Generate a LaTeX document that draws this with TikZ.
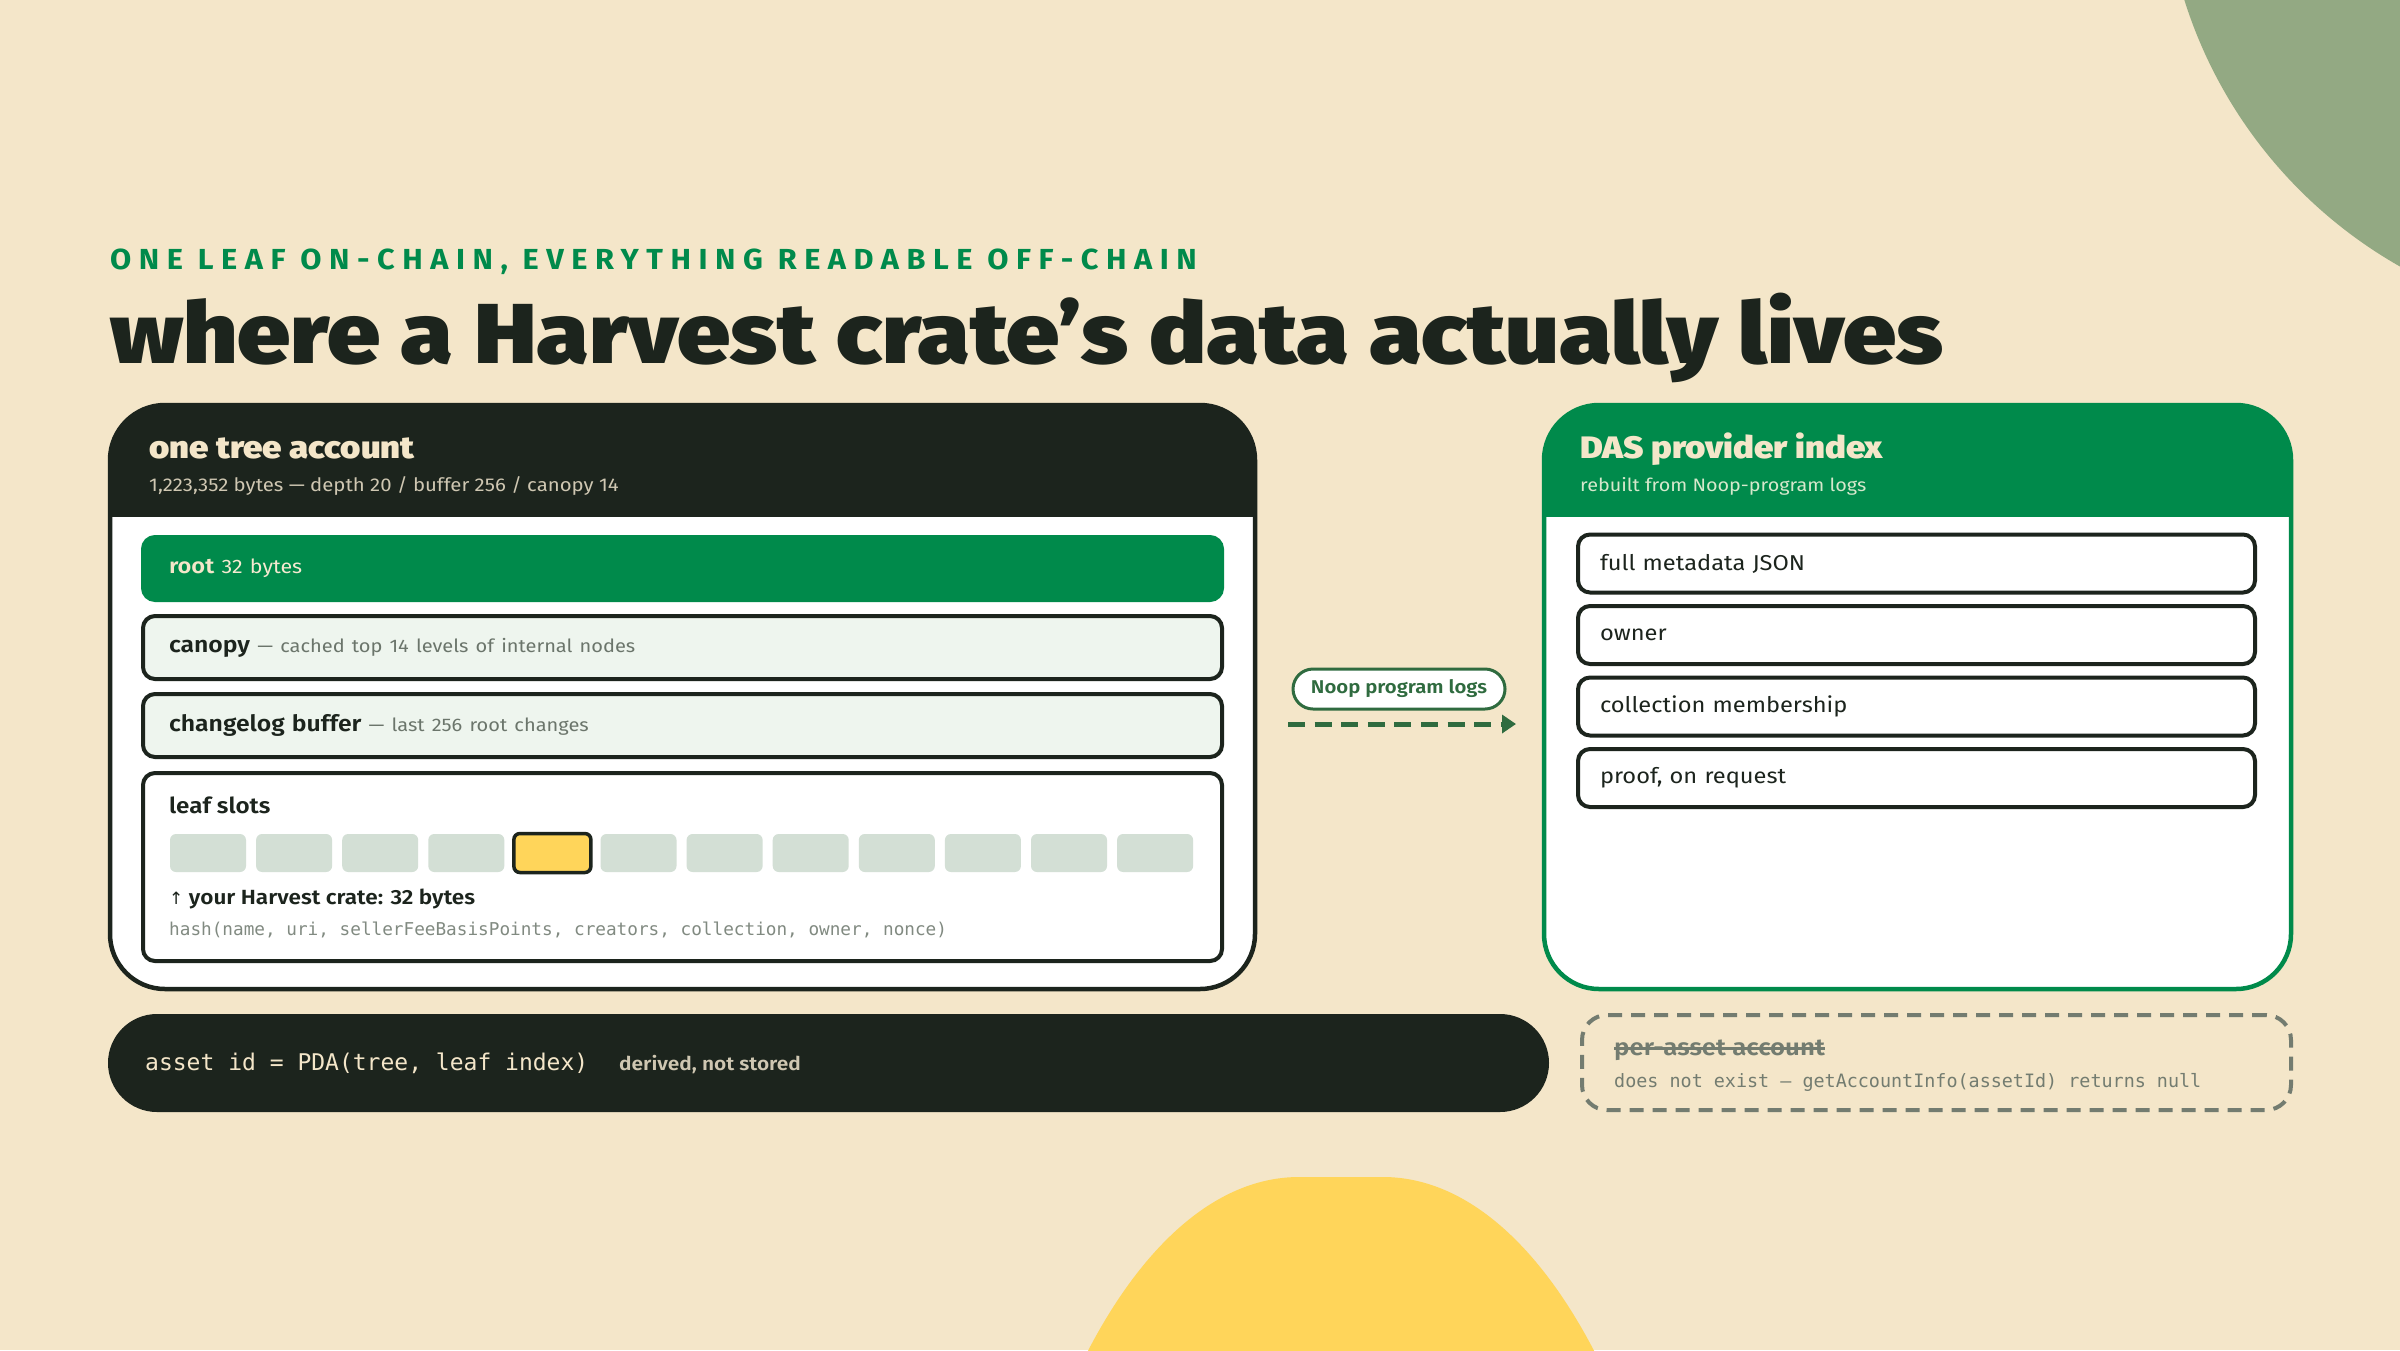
\documentclass[tikz,border=0pt]{standalone}
\usepackage{fontspec}
\setmainfont{Fira Sans}[BoldFont={Fira Sans SemiBold},FakeStretch=1.1]
\setmonofont{DejaVu Sans Mono}
\newfontfamily\heavyfont{Fira Sans Black}[FakeStretch=1.12]
\newfontfamily\capsfont{Fira Sans Bold}[LetterSpace=26,FakeStretch=1.06]
\newfontfamily\symfont{DejaVu Sans}
\usetikzlibrary{arrows.meta,positioning}

\definecolor{cream}{HTML}{F4E6C9}
\definecolor{ink}{HTML}{1C241D}
\definecolor{leafgreen}{HTML}{008A4B}
\definecolor{sage}{HTML}{93A983}
\definecolor{sun}{HTML}{FFD55A}
\definecolor{mint}{HTML}{EEF5EE}
\definecolor{slotgrey}{HTML}{D3DFD5}
\definecolor{mutedtext}{HTML}{6B756B}
\definecolor{ashgrey}{HTML}{737C70}
\definecolor{logsgreen}{HTML}{2F6B3F}
\definecolor{paletext}{HTML}{CFC7B2}
\definecolor{palegreen}{HTML}{D6E8CC}
\newcommand{\dimnote}{\fontsize{18.2}{22}\selectfont\mdseries\color{mutedtext}}

\begin{document}
\begin{tikzpicture}[x=1pt,y=-1pt,
  rowbox/.style={draw=ink,line width=4pt,rounded corners=12pt,minimum width=1079pt,
    minimum height=63pt,text width=1027pt,inner xsep=26pt,align=left,
    font=\fontsize{21.5}{25}\selectfont,text=ink},
  itembox/.style={draw=ink,line width=4pt,fill=white,rounded corners=12pt,minimum width=677pt,
    minimum height=58pt,text width=633pt,inner xsep=22pt,align=left,
    font=\fontsize{21.5}{25}\selectfont,text=ink},
  slot/.style={fill=slotgrey,rounded corners=6pt,minimum width=76pt,minimum height=38pt,inner sep=0pt},
  mine/.style={slot,fill=sun,draw=ink,line width=3.5pt,minimum width=77pt,minimum height=39pt},
  label/.style={anchor=base west,inner sep=0pt},
  pill/.style={draw=logsgreen,line width=3pt,fill=white,rounded corners=20pt,minimum width=212pt,
    minimum height=40pt,text=logsgreen,font=\bfseries\fontsize{18.5}{22}\selectfont},
  logarrow/.style={draw=logsgreen,line width=5pt,dash pattern=on 17pt off 9.6pt,
    -{Triangle[length=14pt,width=18pt]}}]

\useasboundingbox (0,0) rectangle (2400,1350);
\fill[cream] (0,0) rectangle (2400,1350);
\begin{scope}
  \clip (0,0) rectangle (2400,1350);
  \fill[sage] (2630,-140) circle (467pt);
  \fill[sun] (1299,1177) -- (1383,1177)
    arc[start angle=90,end angle=0,x radius=320pt,y radius=700pt] -- (979,1877)
    arc[start angle=180,end angle=90,x radius=320pt,y radius=700pt] -- cycle;
\end{scope}

% heading
\node[label,text=leafgreen,font=\capsfont\fontsize{29}{34}\selectfont] (kicker) at (110,269)
  {ONE LEAF ON-CHAIN, EVERYTHING READABLE OFF-CHAIN};
\node[label,text=ink,font=\heavyfont\fontsize{85}{95}\selectfont] (headline) at (110,363)
  {where a Harvest crate’s data actually lives};

% tree account panel
\fill[white,rounded corners=55pt] (110,405) rectangle (1255,989);
\begin{scope}
  \clip (100,395) rectangle (1265,516);
  \fill[ink,rounded corners=55pt] (110,405) rectangle (1255,989);
\end{scope}
\draw[ink,line width=4.5pt,rounded corners=55pt] (110,405) rectangle (1255,989);
\node[label,text=cream,font=\heavyfont\fontsize{31}{36}\selectfont] (treetitle) at (149,458) {one tree account};
\node[label,text=paletext,font=\fontsize{18.5}{22}\selectfont] (treesub) at (149,491)
  {1,223,352 bytes — depth 20 / buffer 256 / canopy 14};

\node[rowbox,fill=leafgreen,draw=leafgreen,text=cream] (root) at (682.5,568.5)
  {\textbf{root} {\fontsize{19.5}{23}\selectfont\color{cream!85!white}32 bytes}};
\node[rowbox,fill=mint] (canopy) at (682.5,647.5)
  {{\bfseries\fontsize{22.5}{26}\selectfont canopy} {\dimnote — cached top 14 levels of internal nodes}};
\node[rowbox,fill=mint] (changelog) at (682.5,725.5)
  {{\bfseries\fontsize{22.5}{26}\selectfont changelog buffer} {\dimnote — last 256 root changes}};
\node[rowbox,fill=white,minimum height=188pt] (leaves) at (682.5,867) {};
\node[label,text=ink,font=\bfseries\fontsize{22}{26}\selectfont] (leaftitle) at (169,813) {leaf slots};
\foreach \i in {0,1,2,3,5,6,7,8,9,10,11}
  \node[slot] (slot\i) at ({208+86.1*\i},853) {};
\node[mine] (slot4) at ({208+86.1*4},853) {};
\node[label,text=ink,font=\bfseries\fontsize{20.5}{24}\selectfont] (yours) at (169,904)
  {{\symfont\mdseries\fontsize{17}{20}\selectfont ↑} your Harvest crate: 32 bytes};
\node[label,text=mutedtext!85!white,font=\ttfamily\fontsize{17.7}{22}\selectfont] (hashline) at (169,935)
  {hash(name, uri, sellerFeeBasisPoints, creators, collection, owner, nonce)};

% DAS index panel
\fill[white,rounded corners=55pt] (1544,405) rectangle (2291,989);
\begin{scope}
  \clip (1534,395) rectangle (2301,516);
  \fill[leafgreen,rounded corners=55pt] (1544,405) rectangle (2291,989);
\end{scope}
\draw[leafgreen,line width=4.5pt,rounded corners=55pt] (1544,405) rectangle (2291,989);
\node[label,text=cream,font=\heavyfont\fontsize{31}{36}\selectfont] (dastitle) at (1580,458) {DAS provider index};
\node[label,text=palegreen,font=\fontsize{18}{22}\selectfont] (dassub) at (1580,491)
  {rebuilt from Noop-program logs};
\node[itembox] (meta) at (1916.5,563.5) {full metadata JSON};
\node[itembox] (owner) at (1916.5,635) {owner};
\node[itembox] (member) at (1916.5,706.5) {collection membership};
\node[itembox] (proof) at (1916.5,778) {proof, on request};

% logs between panels
\node[pill] (logs) at (1399,689) {Noop program logs};
\coordinate (logsfrom) at (1288,724);
\coordinate (logsto) at (1516,724);
\draw[logarrow] (logsfrom) -- (logsto);

% asset id bar
\node[fill=ink,rounded corners=49pt,minimum width=1441pt,minimum height=98pt] (assetid) at (828.5,1063) {};
\node[label,text=cream,font=\ttfamily\fontsize{23}{27}\selectfont] (pda) at (145,1070)
  {asset id = PDA(tree, leaf index)};
\node[label,text=paletext,font=\bfseries\fontsize{19}{23}\selectfont] (derived) at (619,1070)
  {derived, not stored};

% missing account
\node[draw=ashgrey,line width=4pt,dash pattern=on 14pt off 9pt,rounded corners=25pt,
  minimum width=709pt,minimum height=95pt] (noaccount) at (1936.5,1062.5) {};
\node[label,text=ashgrey,font=\bfseries\fontsize{23.5}{27}\selectfont] (struck) at (1614,1055) {per-asset account};
\draw[ashgrey,line width=2.5pt] ([yshift=1.5pt]struck.west) -- ([yshift=1.5pt]struck.east);
\node[label,text=ashgrey,font=\ttfamily\fontsize{18.4}{22}\selectfont] (nullnote) at (1614,1087)
  {does not exist — getAccountInfo(assetId) returns null};

\end{tikzpicture}
\end{document}
